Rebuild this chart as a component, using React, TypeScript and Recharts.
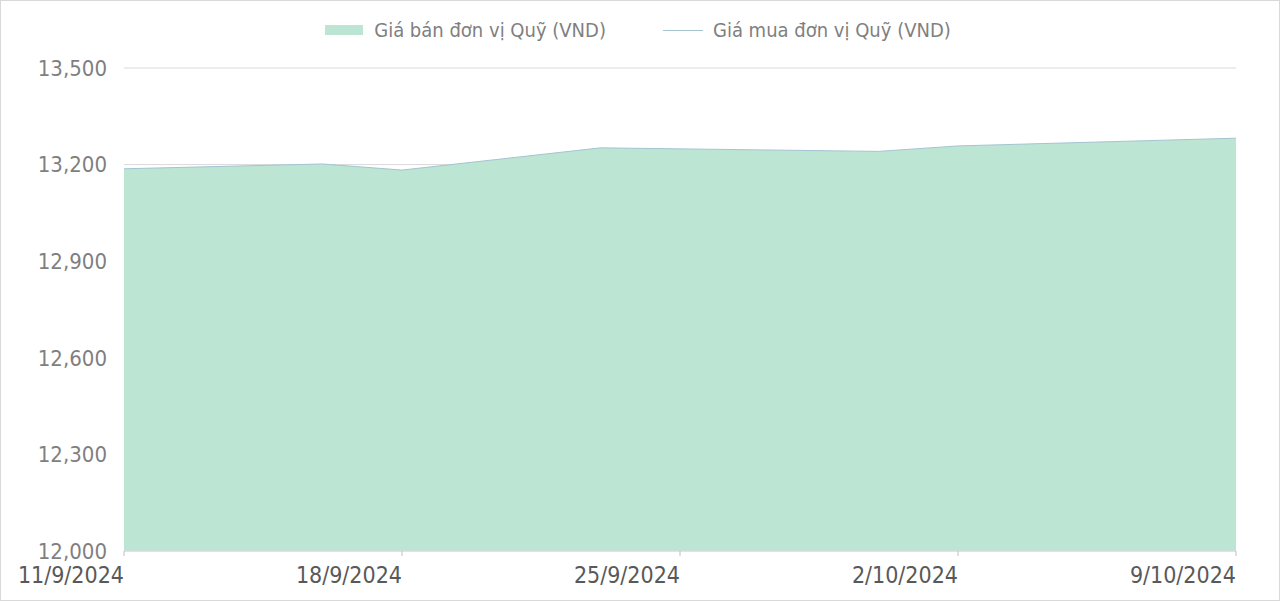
import React from 'react';
import { ComposedChart, Area, Line, XAxis, YAxis, CartesianGrid } from 'recharts';

const dates = ['2024-09-11', '2024-09-16', '2024-09-18', '2024-09-23', '2024-09-30', '2024-10-02', '2024-10-09'];
const sellPrice = [13187, 13202, 13183, 13252, 13241, 13258, 13282];
const buyPrice = [13187, 13202, 13183, 13252, 13241, 13258, 13282];
const xTickDates = ['2024-09-11', '2024-09-18', '2024-09-25', '2024-10-02', '2024-10-09'];
const yTicks = [12000, 12300, 12600, 12900, 13200, 13500];
const seriesNames = ['Giá bán đơn vị Quỹ (VND)', 'Giá mua đơn vị Quỹ (VND)'];

const toTs = (s: string) => {
  const [y, m, d] = s.split('-').map(Number);
  return Date.UTC(y, m - 1, d);
};
const fmtDate = (ts: number) => {
  const d = new Date(ts);
  return `${d.getUTCDate()}/${d.getUTCMonth() + 1}/${d.getUTCFullYear()}`;
};

const data = dates.map((d, i) => ({ t: toTs(d), sell: sellPrice[i], buy: buyPrice[i] }));
const xTicks = xTickDates.map(toTs);

const FONT = '"DejaVu Sans Condensed", "DejaVu Sans", sans-serif';
const AREA_COLOR = '#bde5d3';
const LINE_COLOR = '#a4c4d2';

const XTick = (props: any) => {
  const { x, y, payload } = props;
  return (
    <text x={x} y={y} dy="0.71em" textAnchor="end" fill="#595959" fontSize={23} fontFamily={FONT}>
      {fmtDate(payload.value)}
    </text>
  );
};

export default function App() {
  return (
    <div
      style={{
        position: 'absolute',
        left: 0,
        top: 0,
        width: 1280,
        height: 601,
        border: '1px solid #d9d9d9',
        boxSizing: 'border-box',
        background: '#fff',
        fontFamily: FONT,
      }}
    >
      <div
        style={{
          position: 'absolute',
          left: 0,
          top: 17,
          width: 1274,
          display: 'flex',
          justifyContent: 'center',
          alignItems: 'center',
          color: '#7f7f7f',
          fontSize: 20,
          lineHeight: '24px',
        }}
      >
        <div style={{ display: 'flex', alignItems: 'center' }}>
          <span style={{ display: 'inline-block', width: 38, height: 10, background: AREA_COLOR, marginRight: 11 }} />
          <span>{seriesNames[0]}</span>
        </div>
        <div style={{ display: 'flex', alignItems: 'center', marginLeft: 57 }}>
          <span style={{ display: 'inline-block', width: 40, height: 1, background: LINE_COLOR, marginRight: 10 }} />
          <span>{seriesNames[1]}</span>
        </div>
      </div>
      <ComposedChart
        width={1278}
        height={599}
        data={data}
        margin={{ top: 67, right: 43, bottom: 0, left: 0 }}
      >
        <CartesianGrid horizontal vertical={false} stroke="#d9d9d9" />
        <XAxis
          dataKey="t"
          type="number"
          scale="time"
          domain={[xTicks[0], xTicks[xTicks.length - 1]]}
          ticks={xTicks}
          tick={<XTick />}
          height={49}
          tickSize={5}
          tickMargin={11}
          axisLine={{ stroke: '#d9d9d9' }}
          tickLine={{ stroke: '#bfbfbf' }}
          interval={0}
        />
        <YAxis
          type="number"
          domain={[12000, 13500]}
          ticks={yTicks}
          width={123}
          axisLine={false}
          tickLine={false}
          tickSize={0}
          tickMargin={17}
          interval={0}
          tickFormatter={(v: number) => v.toLocaleString('en-US')}
          tick={{ fill: '#7f7f7f', fontSize: 22, fontFamily: FONT }}
        />
        <Area
          type="linear"
          dataKey="sell"
          name={seriesNames[0]}
          fill={AREA_COLOR}
          fillOpacity={1}
          stroke="none"
          isAnimationActive={false}
        />
        <Line
          type="linear"
          dataKey="buy"
          name={seriesNames[1]}
          stroke={LINE_COLOR}
          strokeWidth={1}
          dot={false}
          isAnimationActive={false}
        />
      </ComposedChart>
    </div>
  );
}
